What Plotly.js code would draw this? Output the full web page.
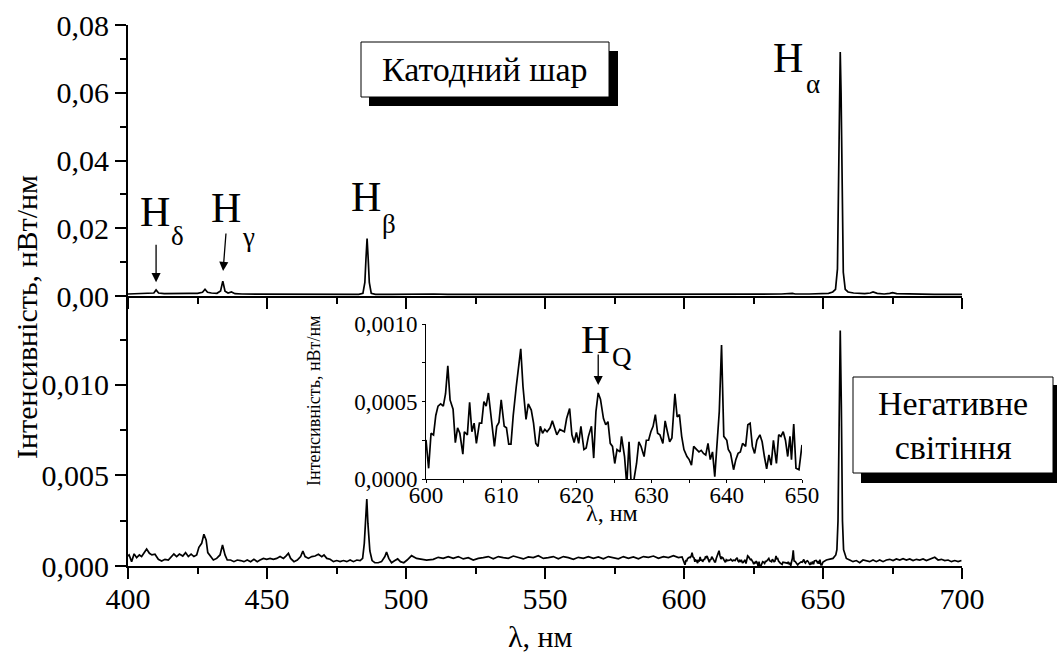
<!DOCTYPE html>
<html>
<head>
<meta charset="utf-8">
<script src="https://cdn.plot.ly/plotly-3.0.1.min.js"></script>
<style>html,body{margin:0;padding:0;background:#fff;}#chart{width:1057px;height:652px;}</style>
</head>
<body>
<div id="chart"></div>
<script>
// ---- Top panel: cathode layer (Катодний шар), intensity in nW/nm ----
const wlTop = [400,403,406,408,409.3,410.1,411,413,416,419,422,425,426.8,427.7,428.6,430,432,433.3,434.1,434.9,436,437.2,438.5,441,445,450,455,460,465,470,475,480,483,484.5,485.2,485.6,486.0,486.4,486.8,487.5,489,495,500,505,510,515,520,525,530,535,540,545,550,555,560,565,570,575,580,585,590,595,600,605,610,612.5,615,620,625,630,635,639,640,645,650,652,653.5,654.5,655.2,655.6,656.0,656.2,656.5,656.9,657.3,658,659,661,663,665,667,668,669.5,672,674,675,676.5,680,685,690,695,700];
const intTop = [0.0006,0.0007,0.0008,0.0007,0.0009,0.0018,0.0009,0.0007,0.0008,0.0007,0.0008,0.0008,0.0011,0.0020,0.0011,0.0009,0.0008,0.0015,0.0044,0.0014,0.0009,0.0012,0.0007,0.0006,0.0006,0.0005,0.0006,0.0005,0.0006,0.0005,0.0005,0.0005,0.0005,0.0008,0.004,0.011,0.0170,0.011,0.004,0.0008,0.0005,0.0005,0.0006,0.0005,0.0006,0.0005,0.0005,0.0006,0.0005,0.0006,0.0006,0.0005,0.0006,0.0006,0.0005,0.0007,0.0006,0.0006,0.0005,0.0006,0.0006,0.0005,0.0006,0.0006,0.0005,0.0007,0.0006,0.0006,0.0005,0.0006,0.0006,0.0008,0.0006,0.0006,0.0007,0.0008,0.0012,0.002,0.008,0.030,0.065,0.0720,0.060,0.025,0.007,0.002,0.0012,0.0009,0.0008,0.0007,0.0009,0.0012,0.0008,0.0006,0.0008,0.0010,0.0007,0.0006,0.0006,0.0005,0.0005,0.0005];

// ---- Bottom panel: negative glow (Негативне світіння), 400-600 nm ----
const wlNegA = [400.0,400.4,401.3,402.2,403.1,404.1,404.9,405.8,406.7,407.7,408.6,409.7,410.9,412.1,413.3,414.5,415.7,416.5,417.5,418.5,419.7,420.7,421.7,422.7,423.7,424.7,425.5,426.5,427.3,428.1,428.7,429.7,430.7,431.9,433.1,434.0,434.9,435.7,436.9,438.1,439.3,440.5,441.7,442.9,444.1,445.3,446.5,447.5,448.7,449.9,451.1,452.3,453.5,454.7,455.9,456.8,457.7,458.5,459.7,460.9,462.1,462.9,463.7,464.9,466.1,467.3,468.5,469.7,470.5,471.5,472.7,473.9,475.1,476.3,477.5,478.7,479.9,481.1,482.3,483.5,484.4,485.0,485.5,485.9,486.3,487.0,487.8,488.8,490.0,491.2,492.4,493.0,493.8,494.8,496.0,497.0,498.0,499.2,500.4,501.4,502.0,503.8,505.6,507.4,509.8,511.6,513.4,515.2,517.0,518.8,520.6,522.4,524.2,526.0,527.8,529.6,531.4,533.2,535.0,536.8,538.6,540.4,542.2,544.0,545.8,547.6,549.4,551.2,553.0,554.8,556.6,558.4,560.2,562.0,563.8,565.6,567.4,569.2,571.0,572.8,574.6,576.4,578.2,580.0,581.8,583.6,585.4,587.2,589.0,590.8,592.6,594.4,596.2,598.0,599.3];
const intNegA = [0.00055,0.00061,0.00024,0.00067,0.00046,0.00061,0.00052,0.00074,0.00094,0.00070,0.00061,0.00065,0.00037,0.00028,0.00037,0.00033,0.00052,0.00066,0.00052,0.00066,0.00055,0.00074,0.00052,0.00065,0.00052,0.00061,0.00103,0.00125,0.00175,0.00144,0.00074,0.00052,0.00033,0.00042,0.00061,0.00116,0.00061,0.00033,0.00033,0.00024,0.00033,0.00030,0.00024,0.00033,0.00024,0.00037,0.00024,0.00033,0.00042,0.00037,0.00042,0.00037,0.00042,0.00052,0.00042,0.00055,0.00070,0.00042,0.00024,0.00033,0.00052,0.00083,0.00052,0.00042,0.00052,0.00055,0.00065,0.00052,0.00061,0.00042,0.00037,0.00024,0.00030,0.00024,0.00030,0.00024,0.00033,0.00024,0.00033,0.00030,0.00042,0.00125,0.00254,0.00370,0.00235,0.00083,0.00030,0.00018,0.00018,0.00024,0.00052,0.00077,0.00042,0.00018,0.00030,0.00039,0.00024,0.00018,0.00033,0.00052,0.00057,0.00042,0.00037,0.00033,0.00037,0.00048,0.00042,0.00052,0.00042,0.00052,0.00039,0.00046,0.00033,0.00042,0.00046,0.00052,0.00040,0.00052,0.00046,0.00042,0.00055,0.00046,0.00039,0.00050,0.00046,0.00057,0.00042,0.00046,0.00052,0.00040,0.00052,0.00046,0.00037,0.00048,0.00042,0.00052,0.00042,0.00050,0.00040,0.00052,0.00046,0.00040,0.00052,0.00042,0.00050,0.00040,0.00052,0.00048,0.00055,0.00042,0.00052,0.00046,0.00057,0.00046,0.00050];

// ---- Negative glow, 600-650 nm (also shown in the inset) ----
const wlInset = [600.0,600.35,600.67,601.0,601.3,601.6,601.95,602.3,602.6,602.9,603.2,603.6,603.9,604.2,604.5,604.9,605.1,605.5,605.8,606.1,606.4,606.7,607.1,607.4,607.7,608.0,608.3,608.7,609.1,609.4,609.7,610.0,610.4,610.7,611.0,611.3,611.6,612.0,612.3,612.6,612.9,613.3,613.6,614.0,614.3,614.6,614.9,615.2,615.5,615.8,616.1,616.5,616.8,617.1,617.4,617.8,618.1,618.4,618.7,619.1,619.4,619.7,620.0,620.3,620.6,621.0,621.3,621.6,622.0,622.3,622.6,622.9,623.2,623.6,623.9,624.2,624.5,624.8,625.1,625.4,625.8,626.0,626.4,626.7,627.0,627.3,627.6,628.0,628.3,628.6,629.0,629.3,629.6,629.9,630.2,630.5,630.8,631.1,631.5,631.8,632.1,632.4,632.7,633.1,633.4,633.7,634.0,634.3,634.7,635.0,635.3,635.6,636.0,636.3,636.6,636.9,637.2,637.5,637.8,638.1,638.4,638.7,639.0,639.3,639.6,640.0,640.2,640.5,640.9,641.2,641.5,641.8,642.1,642.5,642.8,643.1,643.4,643.7,644.0,644.4,644.7,645.0,645.3,645.6,645.9,646.2,646.6,646.9,647.2,647.5,647.8,648.1,648.4,648.6,648.9,649.2,649.6,650.0];
const intInset = [0.000252,0.000069,0.000295,0.000284,0.00041,0.00047,0.000485,0.00047,0.00055,0.00073,0.00051,0.00045,0.000235,0.00033,0.000295,0.00016,0.000305,0.000285,0.000495,0.000305,0.00036,0.00023,0.00036,0.00036,0.0005,0.00047,0.000555,0.00038,0.00021,0.00034,0.000365,0.00051,0.00034,0.00033,0.000225,0.000225,0.00041,0.000595,0.000725,0.00084,0.000595,0.000385,0.000485,0.000445,0.00036,0.00023,0.00021,0.00034,0.000295,0.00032,0.000305,0.00033,0.000375,0.00033,0.000285,0.00032,0.000315,0.000305,0.00039,0.000455,0.000285,0.000235,0.0003,0.00023,0.00034,0.00019,0.0002,0.000275,0.00034,0.000135,0.000435,0.000555,0.000515,0.00039,0.00035,0.00037,0.00023,0.00021,0.0001,0.00019,0.000175,0.000275,0.000145,-0.00004,0.00024,-0.00005,-0.00002,0.0001,0.00024,0.00021,0.000145,0.00025,0.00025,0.000305,0.00034,0.000415,0.000295,0.000285,0.00023,0.000375,0.000305,0.00024,0.000265,0.00055,0.0004,0.000415,0.000275,0.00019,0.000145,0.000125,0.00009,0.00021,0.00019,0.000175,0.000185,0.000165,0.000155,0.00023,0.000125,0.000175,0.000015,0.00025,0.000435,0.000865,0.000275,0.00025,0.00019,0.000165,0.00006,0.000125,0.000165,0.000175,0.00023,0.00021,0.00035,0.00036,0.00021,0.000165,0.00025,0.000285,0.00024,0.000145,0.000065,0.000155,0.00009,0.00025,0.0001,0.000285,0.000275,0.000305,0.00025,0.000145,0.000275,0.000125,0.000355,0.00007,0.00006,0.00022];

// ---- Negative glow, 650-700 nm ----
const wlNegB = [651.2,652.4,653.6,654.6,655.0,655.4,655.8,656.2,656.6,657.0,657.4,657.9,658.4,659.6,660.8,662.0,663.2,664.4,665.6,666.8,668.0,669.2,670.4,671.6,672.8,674.0,675.2,676.4,677.6,678.8,680.0,681.2,682.4,683.6,684.8,686.0,687.2,688.4,689.6,690.2,691.4,692.6,693.8,695.0,696.2,697.4,698.6,699.8];
const intNegB = [0.00033,0.00037,0.00042,0.00061,0.0009,0.0025,0.0085,0.0130,0.0088,0.0025,0.0009,0.00060,0.00042,0.00033,0.00024,0.00030,0.00018,0.00033,0.00030,0.00024,0.00033,0.00024,0.00033,0.00024,0.00033,0.00037,0.00030,0.00039,0.00033,0.00040,0.00033,0.00039,0.00030,0.00037,0.00033,0.00039,0.00030,0.00037,0.00042,0.00048,0.00033,0.00037,0.00030,0.00033,0.00024,0.00030,0.00024,0.00030];

// ---- Tick / label texts ----
const labelTop = 'Катодний шар';
const labelBottom = 'Негативне<br>світіння';
const yTitle = 'Інтенсивність, нВт/нм';
const xTitle = 'λ, нм';

const FONT = 'Liberation Serif';
const L = 128, R = 962, T = 25, B = 566;
const px = v => (v - L) / (R - L);
const py = v => (B - v) / (B - T);

const line = {color: '#000', width: 1.7};
const traces = [
  {x: wlTop, y: intTop, xaxis: 'x2', yaxis: 'y2', mode: 'lines', line: line, hoverinfo: 'skip'},
  {x: wlNegA.concat(wlInset, wlNegB), y: intNegA.concat(intInset, intNegB), xaxis: 'x', yaxis: 'y', mode: 'lines', line: line, hoverinfo: 'skip'},
  {x: wlInset, y: intInset, xaxis: 'x3', yaxis: 'y3', mode: 'lines', line: {color: '#000', width: 1.7}, hoverinfo: 'skip'}
];

const mainAxis = {
  showline: true, linecolor: '#000', linewidth: 2, showgrid: false, zeroline: false,
  ticks: 'outside', ticklen: 11, tickwidth: 2, tickcolor: '#000',
  tickfont: {family: FONT, size: 30, color: '#000'}, mirror: false
};
const splitY = 0.499;

const layout = {
  width: 1057, height: 652,
  margin: {l: L, r: 1057 - R, t: T, b: 652 - B},
  paper_bgcolor: '#fff', plot_bgcolor: 'rgba(0,0,0,0)',
  showlegend: false,
  separators: ', ',
  font: {family: FONT, color: '#000'},
  xaxis: Object.assign({}, mainAxis, {domain: [0, 1], anchor: 'y', range: [400, 700], dtick: 50, tick0: 400, ticklabelstandoff: -6,
    minor: {dtick: 25, ticklen: 6, tickwidth: 2, tickcolor: '#000', ticks: 'outside'}}),
  yaxis: Object.assign({}, mainAxis, {domain: [0, splitY], anchor: 'x', range: [0, 0.0149], dtick: 0.005, tick0: 0, tickformat: '.3f',
    minor: {dtick: 0.0025, ticklen: 6, tickwidth: 2, tickcolor: '#000', ticks: 'outside'}}),
  xaxis2: Object.assign({}, mainAxis, {domain: [0, 1], anchor: 'y2', range: [400, 700], dtick: 50, tick0: 400, showticklabels: false,
    minor: {dtick: 25, ticklen: 6, tickwidth: 2, tickcolor: '#000', ticks: 'outside'}}),
  yaxis2: Object.assign({}, mainAxis, {domain: [splitY, 1], anchor: 'x2', range: [0, 0.08], dtick: 0.02, tick0: 0, tickformat: '.2f',
    minor: {dtick: 0.01, ticklen: 6, tickwidth: 2, tickcolor: '#000', ticks: 'outside'}}),
  xaxis3: {domain: [px(426), px(802)], anchor: 'y3', range: [600, 650], dtick: 10, tick0: 600, ticklabelstandoff: -8,
    showline: true, linecolor: '#000', linewidth: 1, showgrid: false, zeroline: false,
    ticks: 'outside', ticklen: 3, tickwidth: 1, tickcolor: '#000',
    minor: {dtick: 5, ticklen: 3, tickwidth: 1, tickcolor: '#000', ticks: 'outside'},
    tickfont: {family: FONT, size: 23, color: '#000'}},
  yaxis3: {domain: [py(479), py(324)], anchor: 'x3', range: [0, 0.001], dtick: 0.0005, tick0: 0, tickformat: '.4f',
    showline: true, linecolor: '#000', linewidth: 1, showgrid: false, zeroline: false,
    ticks: 'outside', ticklen: 3, tickwidth: 1, tickcolor: '#000',
    minor: {dtick: 0.00025, ticklen: 3, tickwidth: 1, tickcolor: '#000', ticks: 'outside'},
    tickfont: {family: FONT, size: 23, color: '#000'}},
  shapes: [
    {type: 'rect', xref: 'paper', yref: 'paper', x0: px(369), x1: px(618), y0: py(106), y1: py(51), fillcolor: '#000', line: {width: 0}},
    {type: 'rect', xref: 'paper', yref: 'paper', x0: px(361), x1: px(609), y0: py(97), y1: py(42), fillcolor: '#fff', line: {color: '#000', width: 1}},
    {type: 'rect', xref: 'paper', yref: 'paper', x0: px(861), x1: px(1060), y0: py(483), y1: py(385), fillcolor: '#000', line: {width: 0}},
    {type: 'rect', xref: 'paper', yref: 'paper', x0: px(853), x1: px(1053), y0: py(473), y1: py(377), fillcolor: '#fff', line: {color: '#000', width: 1}}
  ],
  annotations: []
};

const A = layout.annotations;
function txt(xref, yref, x, y, text, size, extra) {
  A.push(Object.assign({xref: xref, yref: yref, x: x, y: y, text: text, showarrow: false,
    xanchor: 'center', yanchor: 'middle', font: {family: FONT, size: size, color: '#000'}}, extra || {}));
}
function arrow(xref, yref, x, y, ax, ay) {
  A.push({xref: xref, yref: yref, x: x, y: y, ax: ax, ay: ay, text: '', showarrow: true,
    arrowhead: 2, arrowsize: 1.4, arrowwidth: 1.3, arrowcolor: '#000'});
}
// line labels (top panel)
txt('x2', 'y2', 409.7, 0.0247, 'H', 42); txt('x2', 'y2', 417.8, 0.0177, 'δ', 27);
txt('x2', 'y2', 435.1, 0.0260, 'H', 42); txt('x2', 'y2', 443.2, 0.0173, 'γ', 27);
txt('x2', 'y2', 485.6, 0.0291, 'H', 42); txt('x2', 'y2', 493.9, 0.0213, 'β', 27);
txt('x2', 'y2', 637.4, 0.0704, 'H', 42); txt('x2', 'y2', 646.4, 0.0626, 'α', 27);
arrow('x2', 'y2', 410.1, 0.0041, 0, -39);
arrow('x2', 'y2', 434.2, 0.0074, 3, -39);
// inset label
txt('x3', 'y3', 622.6, 0.000897, 'H', 40); txt('x3', 'y3', 626.1, 0.000784, 'Q', 27);
arrow('x3', 'y3', 622.9, 0.000606, 0, -32);
// boxes
txt('paper', 'paper', px(485), py(69.5), labelTop, 34);
txt('paper', 'paper', px(953), py(425), labelBottom, 34);
// axis titles
txt('paper', 'paper', px(26), py(317), yTitle, 30, {textangle: -90});
txt('paper', 'paper', px(540), py(636), xTitle, 30);
txt('paper', 'paper', px(612), py(513), xTitle, 24);
txt('paper', 'paper', px(314), py(401), yTitle, 18, {textangle: -90});

Plotly.newPlot('chart', traces, layout, {staticPlot: true, displayModeBar: false});
</script>
</body>
</html>
